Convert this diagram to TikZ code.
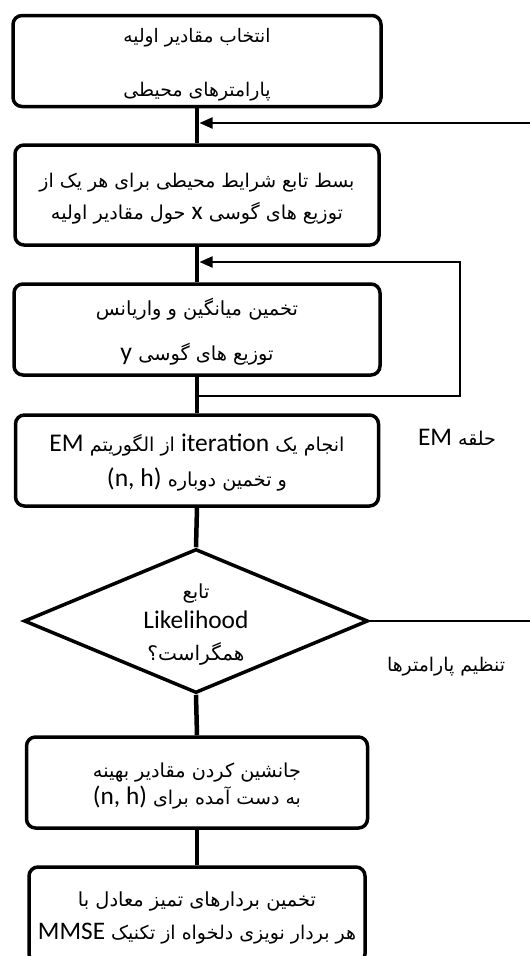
\documentclass[tikz,border=0pt]{standalone}
\usepackage{fontspec}
\usepackage{graphicx}
\usetikzlibrary{arrows.meta,shapes.geometric}
\TeXXeTstate=1
\newfontfamily\fa[Script=Arabic]{DejaVu Sans}
\newfontfamily\la{Carlito}
\newcommand{\latw}[1]{{\la\fontsize{20}{24}\selectfont\beginL #1\endL}}
\newcommand{\pline}[2]{\raisebox{0pt}[16pt][0pt]{\resizebox{#1pt}{!}{#2}}}
\newcommand{\lline}[2]{\raisebox{0pt}[16pt][0pt]{\resizebox{#1pt}{!}{\la #2}}}
\begin{document}
\begin{tikzpicture}[x=1pt,y=-1pt,
  box/.style={draw,line width=3.5pt,rounded corners=9pt,inner sep=0pt,align=center,
    font=\fa\fontsize{15}{18}\selectfont},
  trunk/.style={line width=4.5pt},
  fb/.style={line width=2pt},
  tip/.style={-{Triangle[length=13pt,width=11pt]}},
  lbl/.style={inner sep=0pt,font=\fa\fontsize{15}{18}\selectfont}]
\clip (0,0) rectangle (530,956);
\fill[white] (0,0) rectangle (530,956);
% boxes
\node[box,minimum width=368pt,minimum height=91pt] (b1) at (197,61)
  {\pline{147}{\beginR انتخاب مقادیر اولیه\endR}\\[36pt]\pline{147}{\beginR پارامترهای محیطی\endR}};
\node[box,minimum width=364pt,minimum height=100pt] (b2) at (197,195)
  {\pline{315}{\beginR بسط تابع شرایط محیطی برای هر یک از\endR}\\[14pt]\pline{292}{\beginR توزیع های گوسی \latw{x} حول مقادیر اولیه\endR}};
\node[box,minimum width=366pt,minimum height=91pt] (b3) at (197,329.5)
  {\pline{202}{\beginR تخمین میانگین و واریانس\endR}\\[27pt]\pline{153}{\beginR توزیع های گوسی \latw{y}\endR}};
\node[box,minimum width=363pt,minimum height=91pt] (b4) at (197,460.5)
  {\pline{295}{\beginR انجام یک \latw{iteration} از الگوریتم \latw{EM}\endR}\\[17pt]\pline{180}{\beginR و تخمین دوباره \latw{(n, h)}\endR}};
\node[draw,diamond,line width=3.5pt,minimum width=344pt,minimum height=144pt,inner sep=0pt] (dec) at (196,621) {};
\node[align=center,inner sep=0pt,font=\fa\fontsize{15}{18}\selectfont] (dect) at (dec.center)
  {\pline{27}{\beginR تابع\endR}\\[12pt]\lline{105}{Likelihood}\\[14pt]\pline{97}{\beginR همگراست؟\endR}};
\node[box,minimum width=341pt,minimum height=91pt] (b5) at (197,782.5)
  {\pline{208}{\beginR جانشین کردن مقادیر بهینه\endR}\\[9pt]\pline{208}{\beginR به دست آمده برای \latw{(n, h)}\endR}};
\node[box,minimum width=336pt,minimum height=96pt] (b6) at (197,915)
  {\pline{238}{\beginR تخمین بردارهای تمیز معادل با\endR}\\[15pt]\pline{318}{\beginR هر بردار نویزی دلخواه از تکنیک \latw{MMSE}\endR}};
% trunk
\draw[trunk] (b1.south) -- (b2.north);
\draw[trunk] (b2.south) -- (b3.north);
\draw[trunk] (b3.south) -- (b4.north);
\draw[trunk] (b4.south) -- (dec.north);
\draw[trunk] (dec.south) -- (b5.north);
\draw[trunk] (b5.south) -- (b6.north);
% feedback from outside
\coordinate (in1) at (530,123);
\coordinate (j1) at (199.5,123);
\draw[fb,tip] (in1) -- (j1);
% EM loop
\coordinate (l1) at (197,396);
\coordinate (l2) at (460,396);
\coordinate (l3) at (460,262);
\coordinate (l4) at (199.5,262);
\draw[fb,tip] (l1) -- (l2) -- (l3) -- (l4);
% decision exit
\coordinate (out) at (530,621);
\draw[fb] (dec.east) -- (out);
% labels
\node[lbl] (em) at (457,437) {\pline{78}{\beginR حلقه \latw{EM}\endR}};
\node[lbl] (tp) at (446,663) {\pline{118}{\beginR تنظیم پارامترها\endR}};
\end{tikzpicture}
\end{document}
